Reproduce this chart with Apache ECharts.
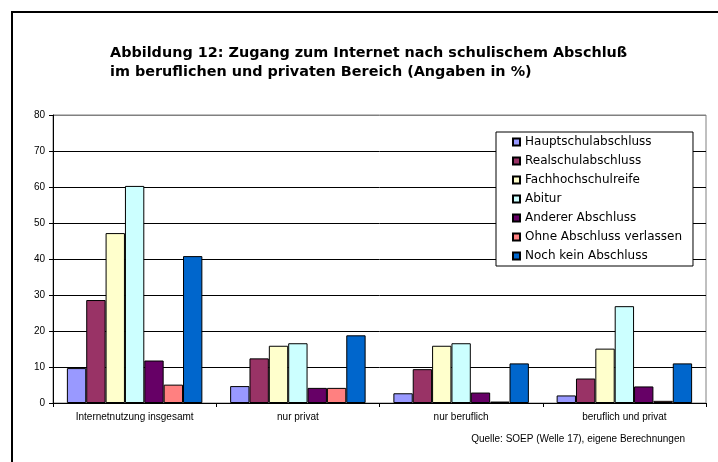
<!DOCTYPE html>
<html style="height: 100%">
<head>
<meta charset="UTF-8">
<title>Abbildung 12</title>
<script src="https://cdn.jsdelivr.net/npm/echarts@6/dist/echarts.min.js"></script>
</head>
<body style="height: 100%;margin: 0;background:#fff">
<div id="chart" style="width:718px;height:462px"></div>
<script type="text/javascript">
// categories on the x axis
var categories = ['Internetnutzung insgesamt', 'nur privat', 'nur beruflich', 'beruflich und privat'];

// one array per school leaving certificate (values in %)
var hauptschul = [9.7, 4.7, 2.7, 2.1];
var realschul = [28.6, 12.4, 9.4, 6.8];
var fachhoch = [47.2, 15.9, 15.9, 15.1];
var abitur = [60.3, 16.6, 16.6, 26.9];
var anderer = [11.8, 4.2, 2.9, 4.6];
var ohne = [5.1, 4.2, 0.4, 0.6];
var nochKein = [40.8, 18.8, 11.0, 11.0];

var seriesNames = ['Hauptschulabschluss', 'Realschulabschluss', 'Fachhochschulreife', 'Abitur',
	'Anderer Abschluss', 'Ohne Abschluss verlassen', 'Noch kein Abschluss'];
var seriesData = [hauptschul, realschul, fachhoch, abitur, anderer, ohne, nochKein];
var colors = ['#9999FF', '#993366', '#FFFFCC', '#CCFFFF', '#660066', '#FF8080', '#0066CC'];

var series = [];
for (var i = 0; i < seriesNames.length; i++) {
	series.push({
		name: seriesNames[i],
		type: 'bar',
		data: seriesData[i],
		barGap: 0,
		barCategoryGap: '17%',
		itemStyle: {color: colors[i], borderColor: '#000', borderWidth: 1}
	});
}

var font = '"Liberation Sans", Arial, sans-serif';
var wideFont = '"DejaVu Sans", sans-serif';
// gridline colors: 0..70 black, top line (80) grey like the plot frame
var gridColors = ['#000', '#000', '#000', '#000', '#000', '#000', '#000', '#000', '#808080'];

var myChart = echarts.init(document.getElementById('chart'));
var option = {
	animation: false,
	textStyle: {fontFamily: font},
	title: {
		text: 'Abbildung 12: Zugang zum Internet nach schulischem Abschluß\nim beruflichen und privaten Bereich (Angaben in %)',
		left: 110,
		top: 44,
		padding: 0,
		textStyle: {fontFamily: wideFont, fontSize: 14.4, fontWeight: 'bold', color: '#000', lineHeight: 19}
	},
	legend: {
		orient: 'vertical',
		left: 496,
		top: 132,
		padding: [3, 11, 3, 16],
		itemGap: 5,
		itemWidth: 7,
		itemHeight: 7,
		itemTextGap: 0,
		icon: 'rect',
		backgroundColor: '#fff',
		borderColor: '#000',
		borderWidth: 1,
		borderRadius: 0,
		textStyle: {fontFamily: wideFont, fontSize: 12, color: '#000', lineHeight: 14},
		data: seriesNames
	},
	grid: {
		left: 53, right: 12, top: 115, bottom: 59,
		show: true, borderColor: '#808080', borderWidth: 1
	},
	xAxis: {
		type: 'category',
		data: categories,
		axisLine: {lineStyle: {color: '#000'}},
		axisTick: {show: true, length: 4, lineStyle: {color: '#000'}},
		axisLabel: {fontFamily: font, fontSize: 10, color: '#000', margin: 9}
	},
	yAxis: {
		type: 'value',
		min: 0, max: 80, interval: 10,
		axisLine: {show: true, lineStyle: {color: '#000'}},
		axisTick: {show: true, length: 4, lineStyle: {color: '#000'}},
		axisLabel: {fontFamily: font, fontSize: 10, color: '#000', margin: 8},
		splitLine: {lineStyle: {color: gridColors, width: 1}}
	},
	graphic: [
		{type: 'rect', shape: {x: 12, y: 12, width: 800, height: 800},
			style: {fill: 'none', stroke: '#000', lineWidth: 2}, silent: true},
		{type: 'text', right: 33, top: 434,
			style: {text: 'Quelle: SOEP (Welle 17), eigene Berechnungen', font: '10px ' + font, fill: '#000'}}
	],
	series: series
};
myChart.setOption(option, true);
</script>
</body>
</html>
